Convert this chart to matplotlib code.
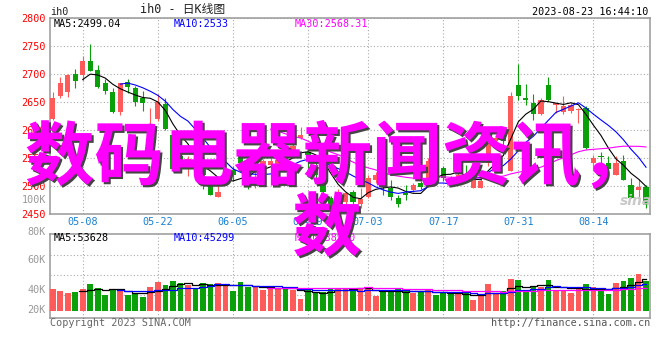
import numpy as np
import pandas as pd
import matplotlib
matplotlib.use('Agg')
import matplotlib.pyplot as plt
import matplotlib.patheffects as pe

# ---------------- data ----------------
dates = ['04-27','04-28','05-04','05-05','05-08','05-09','05-10','05-11','05-12','05-15',
         '05-16','05-17','05-18','05-19','05-22','05-23','05-24','05-25','05-26','05-29',
         '05-30','05-31','06-01','06-02','06-05','06-06','06-07','06-08','06-09','06-12',
         '06-13','06-14','06-15','06-16','06-19','06-20','06-21','06-26','06-27','06-28',
         '06-29','06-30','07-03','07-04','07-05','07-06','07-07','07-10','07-11','07-12',
         '07-13','07-14','07-17','07-18','07-19','07-20','07-21','07-24','07-25','07-26',
         '07-27','07-28','07-31','08-01','08-02','08-03','08-04','08-07','08-08','08-09',
         '08-10','08-11','08-14','08-15','08-16','08-17','08-18','08-21','08-22','08-23']

opens = [2620,2661,2668,2700,2698,2723,2706,2683,2667,2632,
         2685,2674,2657,2624,2620,2646,2590,2553,2535,2545,
         2532,2502,2481,2515,2528,2553,2525,2525,2535,2538,
         2526,2550,2564,2586,2560,2538,2514,2478,2462,2472,
         2490,2467,2481,2510,2516,2496,2478,2487,2493,2505,
         2500,2550,2532,2514,2514,2515,2496,2496,2540,2580,
         2588,2526,2680,2657,2647,2629,2680,2644,2631,2633,
         2636,2639,2541,2553,2541,2520,2544,2502,2493,2499]
highs = [2668,2695,2700,2709,2732,2753,2715,2690,2674,2684,
         2690,2678,2670,2639,2663,2656,2596,2562,2553,2550,
         2541,2508,2502,2533,2535,2559,2530,2550,2548,2550,
         2552,2555,2585,2605,2562,2542,2518,2482,2494,2490,
         2493,2496,2520,2524,2520,2511,2484,2502,2505,2508,
         2550,2550,2535,2518,2523,2538,2520,2517,2590,2590,
         2596,2668,2717,2681,2663,2657,2694,2648,2660,2648,
         2639,2642,2556,2561,2553,2553,2556,2515,2512,2502]
lows = [2617,2657,2658,2675,2687,2705,2674,2663,2630,2626,
        2666,2642,2633,2609,2615,2600,2525,2529,2517,2525,
        2494,2484,2481,2510,2508,2530,2495,2496,2530,2535,
        2522,2536,2560,2583,2526,2515,2486,2456,2458,2468,
        2463,2460,2478,2505,2484,2475,2463,2475,2490,2495,
        2498,2538,2508,2500,2510,2508,2496,2496,2535,2575,
        2572,2526,2653,2645,2618,2626,2651,2630,2628,2630,
        2612,2565,2526,2523,2531,2519,2511,2478,2478,2460]
closes = [2657,2684,2697,2687,2723,2705,2677,2669,2632,2683,
          2676,2650,2647,2625,2650,2601,2530,2547,2548,2535,
          2520,2484,2490,2530,2520,2541,2500,2540,2544,2545,
          2547,2541,2572,2590,2555,2520,2490,2460,2490,2487,
          2472,2477,2514,2519,2500,2481,2467,2484,2502,2499,
          2545,2541,2514,2505,2520,2511,2511,2508,2586,2586,
          2580,2660,2660,2654,2629,2654,2654,2647,2642,2644,
          2637,2568,2550,2551,2531,2541,2511,2479,2499,2466]
volumes_k = [37.1,33.7,30.3,32.0,37.1,45.7,38.8,26.9,35.4,37.1,
             26.9,28.6,23.4,40.6,49.1,44.0,50.8,47.4,44.0,37.1,
             47.4,45.7,47.4,45.7,33.7,49.1,40.6,40.6,35.4,40.6,
             38.8,40.6,35.4,20.0,35.4,32.0,32.0,38.8,38.8,38.8,
             35.4,38.8,38.8,25.1,32.0,33.7,37.1,33.7,30.3,32.0,
             37.1,26.9,30.3,28.6,28.6,32.0,18.3,28.6,45.7,28.6,
             33.7,54.3,52.6,32.0,42.3,41.1,52.6,35.4,35.4,30.3,
             37.1,45.7,40.6,33.7,28.6,47.4,50.8,56.0,62.8,50.8]

tick_labels = ['05-08','05-22','06-05','06-19','07-03','07-17','07-31','08-14']
price_ticks = [2800,2750,2700,2650,2600,2550,2500,2450]
vol_tick_labels = ['100K','80K','60K','40K','20K']
ma_texts = ['MA5:2499.04','MA10:2533','MA30:2568.31']
vol_ma_texts = ['MA5:53628','MA10:45299','MA30:38930']
overlay_line1 = '数码电器新闻资讯，'
overlay_line2 = '数'

# ---------------- style ----------------
RED = '#ff5a5a'
GREEN = '#0aa00a'
FRAME = '#999999'
GRID = '#aaaaaa'
MONO = 'DejaVu Sans Mono'
CJK = 'Noto Sans CJK SC'
W, H = 660, 360

O = np.array(opens, float); Hh = np.array(highs, float)
L = np.array(lows, float); C = np.array(closes, float)
V = np.array(volumes_k, float)
n = len(dates)
x = np.arange(n)
up = C >= O
cols = np.where(up, RED, GREEN)

cs = pd.Series(C)
vs = pd.Series(V)
ma5 = cs.rolling(5).mean(); ma10 = cs.rolling(10).mean(); ma30 = cs.rolling(30).mean()
vma5 = vs.rolling(5).mean(); vma10 = vs.rolling(10).mean(); vma30 = vs.rolling(30).mean()

fig = plt.figure(figsize=(6.6, 3.6), dpi=100)
fig.patch.set_facecolor('white')

def rect(l, t, r, b):
    return [l / W, 1 - b / H, (r - l) / W, (b - t) / H]

def px(xp, yp):
    return xp / W, 1 - yp / H

ax = fig.add_axes(rect(50, 17.6, 650, 214))
axv = fig.add_axes(rect(50, 234, 650, 318))

tick_idx = [dates.index(t) for t in tick_labels]
xlim = (-0.36, 79.53)

for a in (ax, axv):
    a.set_xlim(*xlim)
    for s in a.spines.values():
        s.set_color(FRAME)
        s.set_linewidth(1.1)
    a.set_facecolor('white')

# main chart
ax.set_ylim(2450, 2800)
ax.set_yticks(price_ticks)
ax.set_yticklabels([str(p) for p in price_ticks])
ax.tick_params(axis='y', length=0, pad=3, labelcolor='#ff0000', labelsize=7.3)
ax.set_xticks(tick_idx)
ax.set_xticklabels(tick_labels)
ax.tick_params(axis='x', length=0, pad=2.5, labelcolor='#1a80d0', labelsize=7.3)
for lab in ax.get_xticklabels() + ax.get_yticklabels():
    lab.set_family(MONO)
ax.grid(True, linestyle=(0, (1, 2)), color=GRID, linewidth=0.8)
ax.set_axisbelow(True)

ax.vlines(x, L, Hh, colors=cols, linewidth=0.8, zorder=2)
body_b = np.minimum(O, C)
body_h = np.maximum(np.abs(C - O), 1.3)
ax.bar(x, body_h, bottom=body_b, width=0.7, color=cols, linewidth=0, zorder=3)
ax.plot(x, ma5, color='black', lw=0.8, zorder=4)
ax.plot(x, ma10, color='#0000ff', lw=0.8, zorder=4)
ax.plot(x, ma30, color='#ff00ff', lw=0.8, zorder=4)

# volume chart
axv.set_ylim(-12.5, 131.5)
axv.set_yticks([26.9, 61.2, 95.5])
axv.set_yticklabels([])
axv.set_xticks(tick_idx)
axv.set_xticklabels([])
axv.tick_params(length=0)
axv.grid(True, linestyle=(0, (1, 2)), color=GRID, linewidth=0.8)
axv.set_axisbelow(True)
axv.bar(x, V, width=0.76, color=cols, linewidth=0, zorder=3)
axv.plot(x, vma5, color='black', lw=0.9, drawstyle='steps-mid', zorder=4)
axv.plot(x, vma10, color='#0000ff', lw=0.9, drawstyle='steps-mid', zorder=4)
axv.plot(x, vma30, color='#ff00ff', lw=0.9, drawstyle='steps-mid', zorder=4)

# texts
tk = dict(family=MONO, fontsize=7.3, va='center')
fig.text(*px(50, 12), 'ih0', color='#222222', **tk)
fig.text(*px(140, 10), 'ih0 - 日K线图', color='#222222', family=[MONO, CJK],
         fontsize=8.5, va='center', ha='left')
fig.text(*px(648, 12), '2023-08-23 16:44:10', color='black', ha='right', **tk)

ma_cols = ['black', '#0000ff', '#ff00ff']
ma_x = [54, 174, 295]
for t, c, xx in zip(ma_texts, ma_cols, ma_x):
    fig.text(*px(xx, 24), t, color=c, **tk)
for t, c, xx in zip(vol_ma_texts, ma_cols, ma_x):
    fig.text(*px(xx, 238), t, color=c, **tk)

vol_label_y = [200, 232, 260, 290, 310]
for t, yy in zip(vol_tick_labels, vol_label_y):
    fig.text(*px(46, yy), t, color='#999999', ha='right', **tk)

fig.text(*px(50, 323), 'Copyright 2023 SINA.COM', color='#666666', ha='left', **tk)
fig.text(*px(650, 323), 'http://finance.sina.com.cn', color='#555555', ha='right', **tk)

fig.text(*px(636, 201), 'sina', color='#c8c8c8', fontsize=10, style='italic',
         weight='bold', ha='center', va='center', family='DejaVu Sans')

shadow = [pe.withSimplePatchShadow(offset=(1.5, -1.5), shadow_rgbFace='#444444', alpha=1.0)]
fig.text(*px(25, 159), overlay_line1, color='#ff00ff', fontsize=50, weight='bold',
         family=CJK, ha='left', va='center', path_effects=shadow)
fig.text(*px(327, 230), overlay_line2, color='#ff00ff', fontsize=50, weight='bold',
         family=CJK, ha='center', va='center', path_effects=shadow)

fig.savefig('out.png', dpi=100, facecolor='white')
